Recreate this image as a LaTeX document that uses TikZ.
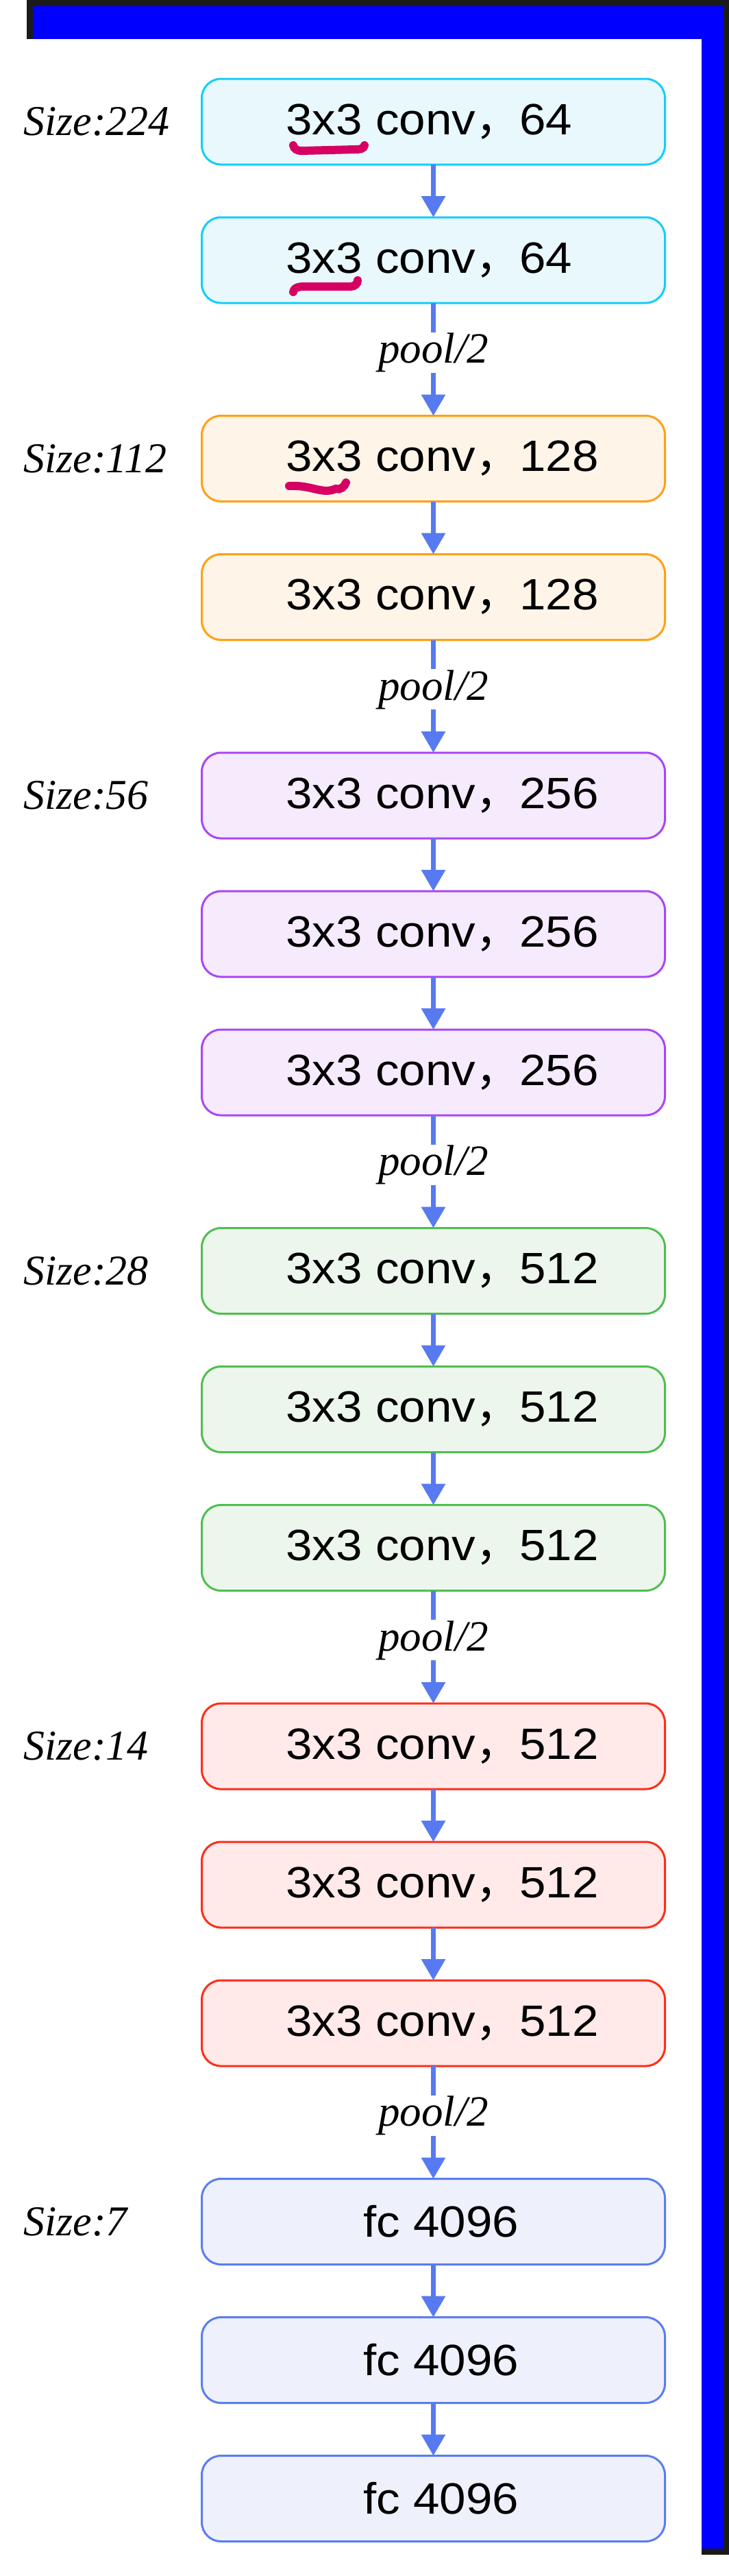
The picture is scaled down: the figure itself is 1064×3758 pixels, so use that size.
\documentclass[tikz,border=0pt]{standalone}
\usepackage{fontspec}
\newfontfamily\boxfont[FakeStretch=1.08]{Liberation Sans}
\newfontfamily\labelfont{Liberation Serif}
\newfontfamily\cjk{Noto Sans CJK SC}
\usetikzlibrary{
	arrows.meta,
	positioning
}
\definecolor{framedark}{RGB}{26,26,26}
\definecolor{frameblue}{RGB}{0,0,255}
\definecolor{cyanline}{RGB}{20,205,250}
\definecolor{cyanfill}{RGB}{232,248,253}
\definecolor{orangeline}{RGB}{255,160,20}
\definecolor{orangefill}{RGB}{255,244,232}
\definecolor{purpleline}{RGB}{170,70,245}
\definecolor{purplefill}{RGB}{246,234,253}
\definecolor{greenline}{RGB}{80,190,80}
\definecolor{greenfill}{RGB}{237,246,237}
\definecolor{redline}{RGB}{255,45,25}
\definecolor{redfill}{RGB}{255,233,233}
\definecolor{blueline}{RGB}{90,125,240}
\definecolor{bluefill}{RGB}{238,241,252}
\definecolor{flowblue}{RGB}{88,122,240}
\definecolor{scribblered}{RGB}{213,0,98}
\newcommand{\convtext}[1]{\hbox to 430pt{3x3 conv{\cjk ，}#1\hss}}
\tikzset{
	>={Triangle[width=34pt, length=31pt]},
	blockbox/.style={draw, rounded corners=28pt, line width=3pt, minimum width=676pt, minimum height=125pt, inner sep=0pt, outer sep=0pt, font=\fontsize{64pt}{70pt}\selectfont\boxfont},
	stage1box/.style={blockbox, draw=cyanline, fill=cyanfill},
	stage2box/.style={blockbox, draw=orangeline, fill=orangefill},
	stage3box/.style={blockbox, draw=purpleline, fill=purplefill},
	stage4box/.style={blockbox, draw=greenline, fill=greenfill},
	stage5box/.style={blockbox, draw=redline, fill=redfill},
	stage6box/.style={blockbox, draw=blueline, fill=bluefill},
	flow/.style={->, line width=6.5pt, draw=flowblue},
	poolnode/.style={fill=white, inner sep=1pt, font=\fontsize{63pt}{68pt}\selectfont\labelfont\itshape},
	sizenode/.style={text width=214pt, align=left, inner sep=0pt, font=\fontsize{62pt}{68pt}\selectfont\labelfont\itshape},
	scribble/.style={line width=12pt, line cap=round, draw=scribblered}
}
\begin{document}
\begin{tikzpicture}[x=1pt, y=-1pt]
	\useasboundingbox (0,0) rectangle (1064,3758);
	\fill[white] (0,0) rectangle (1064,3758);
	% frame
	\fill[framedark] (39,0) rectangle (1064,3727);
	\fill[frameblue] (48,9) rectangle (1056,3718);
	\fill[white] (0,57) rectangle (1024,3758);

	\node[stage1box] (c1) at (632.5,177.5) {\convtext{64}};
	\node[stage1box, below = 77pt of c1] (c2) {\convtext{64}};
	\node[stage2box, below = 164.5pt of c2] (c3) {\convtext{128}};
	\node[stage2box, below = 77pt of c3] (c4) {\convtext{128}};
	\node[stage3box, below = 164.5pt of c4] (c5) {\convtext{256}};
	\node[stage3box, below = 77pt of c5] (c6) {\convtext{256}};
	\node[stage3box, below = 77pt of c6] (c7) {\convtext{256}};
	\node[stage4box, below = 164.5pt of c7] (c8) {\convtext{512}};
	\node[stage4box, below = 77pt of c8] (c9) {\convtext{512}};
	\node[stage4box, below = 77pt of c9] (c10) {\convtext{512}};
	\node[stage5box, below = 164.5pt of c10] (c11) {\convtext{512}};
	\node[stage5box, below = 77pt of c11] (c12) {\convtext{512}};
	\node[stage5box, below = 77pt of c12] (c13) {\convtext{512}};
	\node[stage6box, below = 164.5pt of c13] (fc1) {\hspace*{23pt}fc 4096};
	\node[stage6box, below = 77pt of fc1] (fc2) {\hspace*{23pt}fc 4096};
	\node[stage6box, below = 77pt of fc2] (fc3) {\hspace*{23pt}fc 4096};

	\node[sizenode, left = 46pt of c1] (s224) {Size:224};
	\node[sizenode, left = 46pt of c3] (s112) {Size:112};
	\node[sizenode, left = 46pt of c5] (s56) {Size:56};
	\node[sizenode, left = 46pt of c8] (s28) {Size:28};
	\node[sizenode, left = 46pt of c11] (s14) {Size:14};
	\node[sizenode, left = 46pt of fc1] (s7) {Size:7};

	\draw[flow] (c1.south) -- (c2.north);
	\draw[flow] (c2.south) -- node[poolnode, pos=0.44] (pool1) {pool/2} (c3.north);
	\draw[flow] (c3.south) -- (c4.north);
	\draw[flow] (c4.south) -- node[poolnode, pos=0.44] (pool2) {pool/2} (c5.north);
	\draw[flow] (c5.south) -- (c6.north);
	\draw[flow] (c6.south) -- (c7.north);
	\draw[flow] (c7.south) -- node[poolnode, pos=0.44] (pool3) {pool/2} (c8.north);
	\draw[flow] (c8.south) -- (c9.north);
	\draw[flow] (c9.south) -- (c10.north);
	\draw[flow] (c10.south) -- node[poolnode, pos=0.44] (pool4) {pool/2} (c11.north);
	\draw[flow] (c11.south) -- (c12.north);
	\draw[flow] (c12.south) -- (c13.north);
	\draw[flow] (c13.south) -- node[poolnode, pos=0.44] (pool5) {pool/2} (fc1.north);
	\draw[flow] (fc1.south) -- (fc2.north);
	\draw[flow] (fc2.south) -- (fc3.north);

	% hand marks under 3x3
	\draw[scribble] (428,212) to[out=-80,in=180] (440,220) -- (518,218) to[out=0,in=-100] (532,212);
	\draw[scribble] (428,426) to[out=80,in=180] (446,418) -- (512,418) to[out=0,in=-90] (522,409);
	\draw[scribble] (422,709) .. controls (455,707) and (470,722) .. (490,713) to[out=-20,in=-110] (505,704);
\end{tikzpicture}
\end{document}
